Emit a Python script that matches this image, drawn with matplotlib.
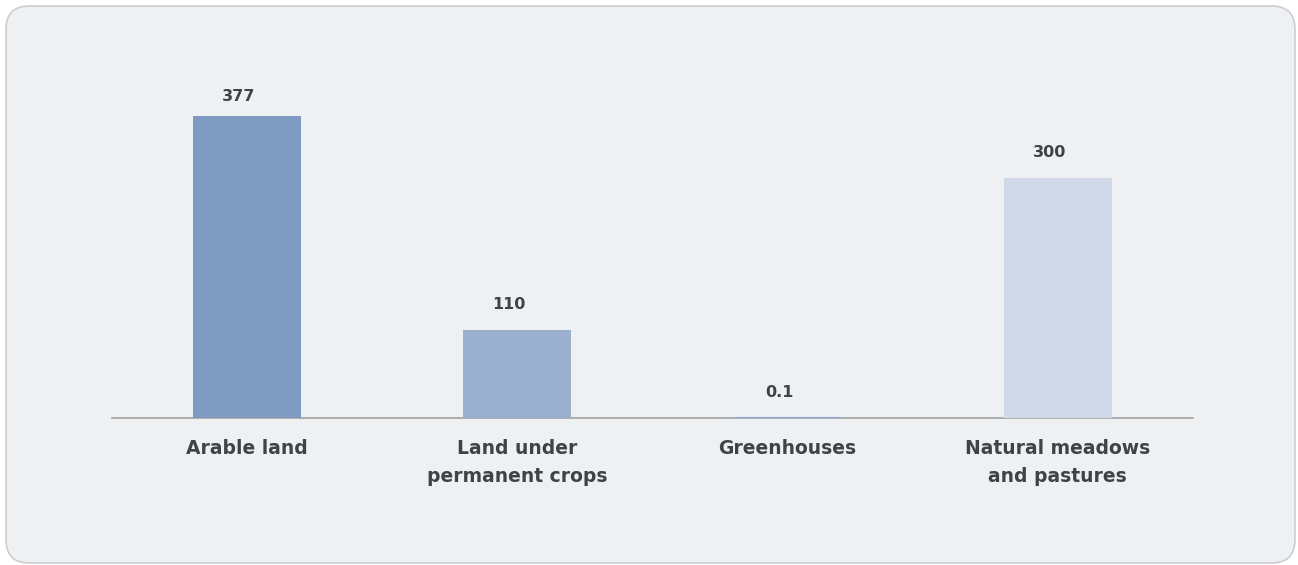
import numpy as np
import matplotlib.pyplot as plt
from matplotlib.patches import FancyBboxPatch

categories = ["Arable land", "Land under\npermanent crops", "Greenhouses", "Natural meadows\nand pastures"]
values = [377, 110, 0.1, 300]
value_labels = ["377", "110", "0.1", "300"]
colors = ["#7f9bc2", "#9bb0cf", "#8aa8e0", "#cfd9e8"]

plt.rcParams['font.family'] = ['DejaVu Sans']

fig = plt.figure(figsize=(12.98, 5.65), dpi=100)
fig.patch.set_facecolor("white")

# rounded card behind the chart
card = FancyBboxPatch((6 / 1298, 2 / 565), 1289 / 1298, 557 / 565,
                      boxstyle="round,pad=0,rounding_size=0.018",
                      transform=fig.transFigure, facecolor="#eff0f2",
                      edgecolor="#c9cfd4", linewidth=1.2, mutation_aspect=1298 / 565,
                      zorder=-5)
fig.patches.append(card)

ax = fig.add_axes([112 / 1298, 147 / 565, 1081 / 1298, 320 / 565])
ax.set_facecolor("none")
ax.set_zorder(2)

x = np.arange(len(categories))
bars = ax.bar(x, values, width=0.4, color=colors, zorder=3)
# the tiny greenhouse bar shows as a thin line
bars[2].set_edgecolor(colors[2])
bars[2].set_linewidth(1.5)

for xi, v, lab in zip(x, values, value_labels):
    dy = 9 if v > 350 else 13
    ax.annotate(lab, (xi, v), xytext=(-6, dy), textcoords="offset points",
                ha="center", va="bottom", fontsize=11.5, fontweight="bold",
                color="#3f4246")

ax.set_xlim(-0.5, 3.5)
ax.set_ylim(0, 400)
ax.set_xticks(x)
ax.set_xticklabels(categories, fontsize=13.5, fontweight="bold", color="#3f4246",
                   linespacing=1.6)
ax.tick_params(axis="x", length=0, pad=15)
ax.set_yticks([])

for s in ["top", "right", "left"]:
    ax.spines[s].set_visible(False)
ax.spines["bottom"].set_color("#a3a3a3")
ax.spines["bottom"].set_linewidth(1.2)

fig.savefig("out.png", dpi=100)
